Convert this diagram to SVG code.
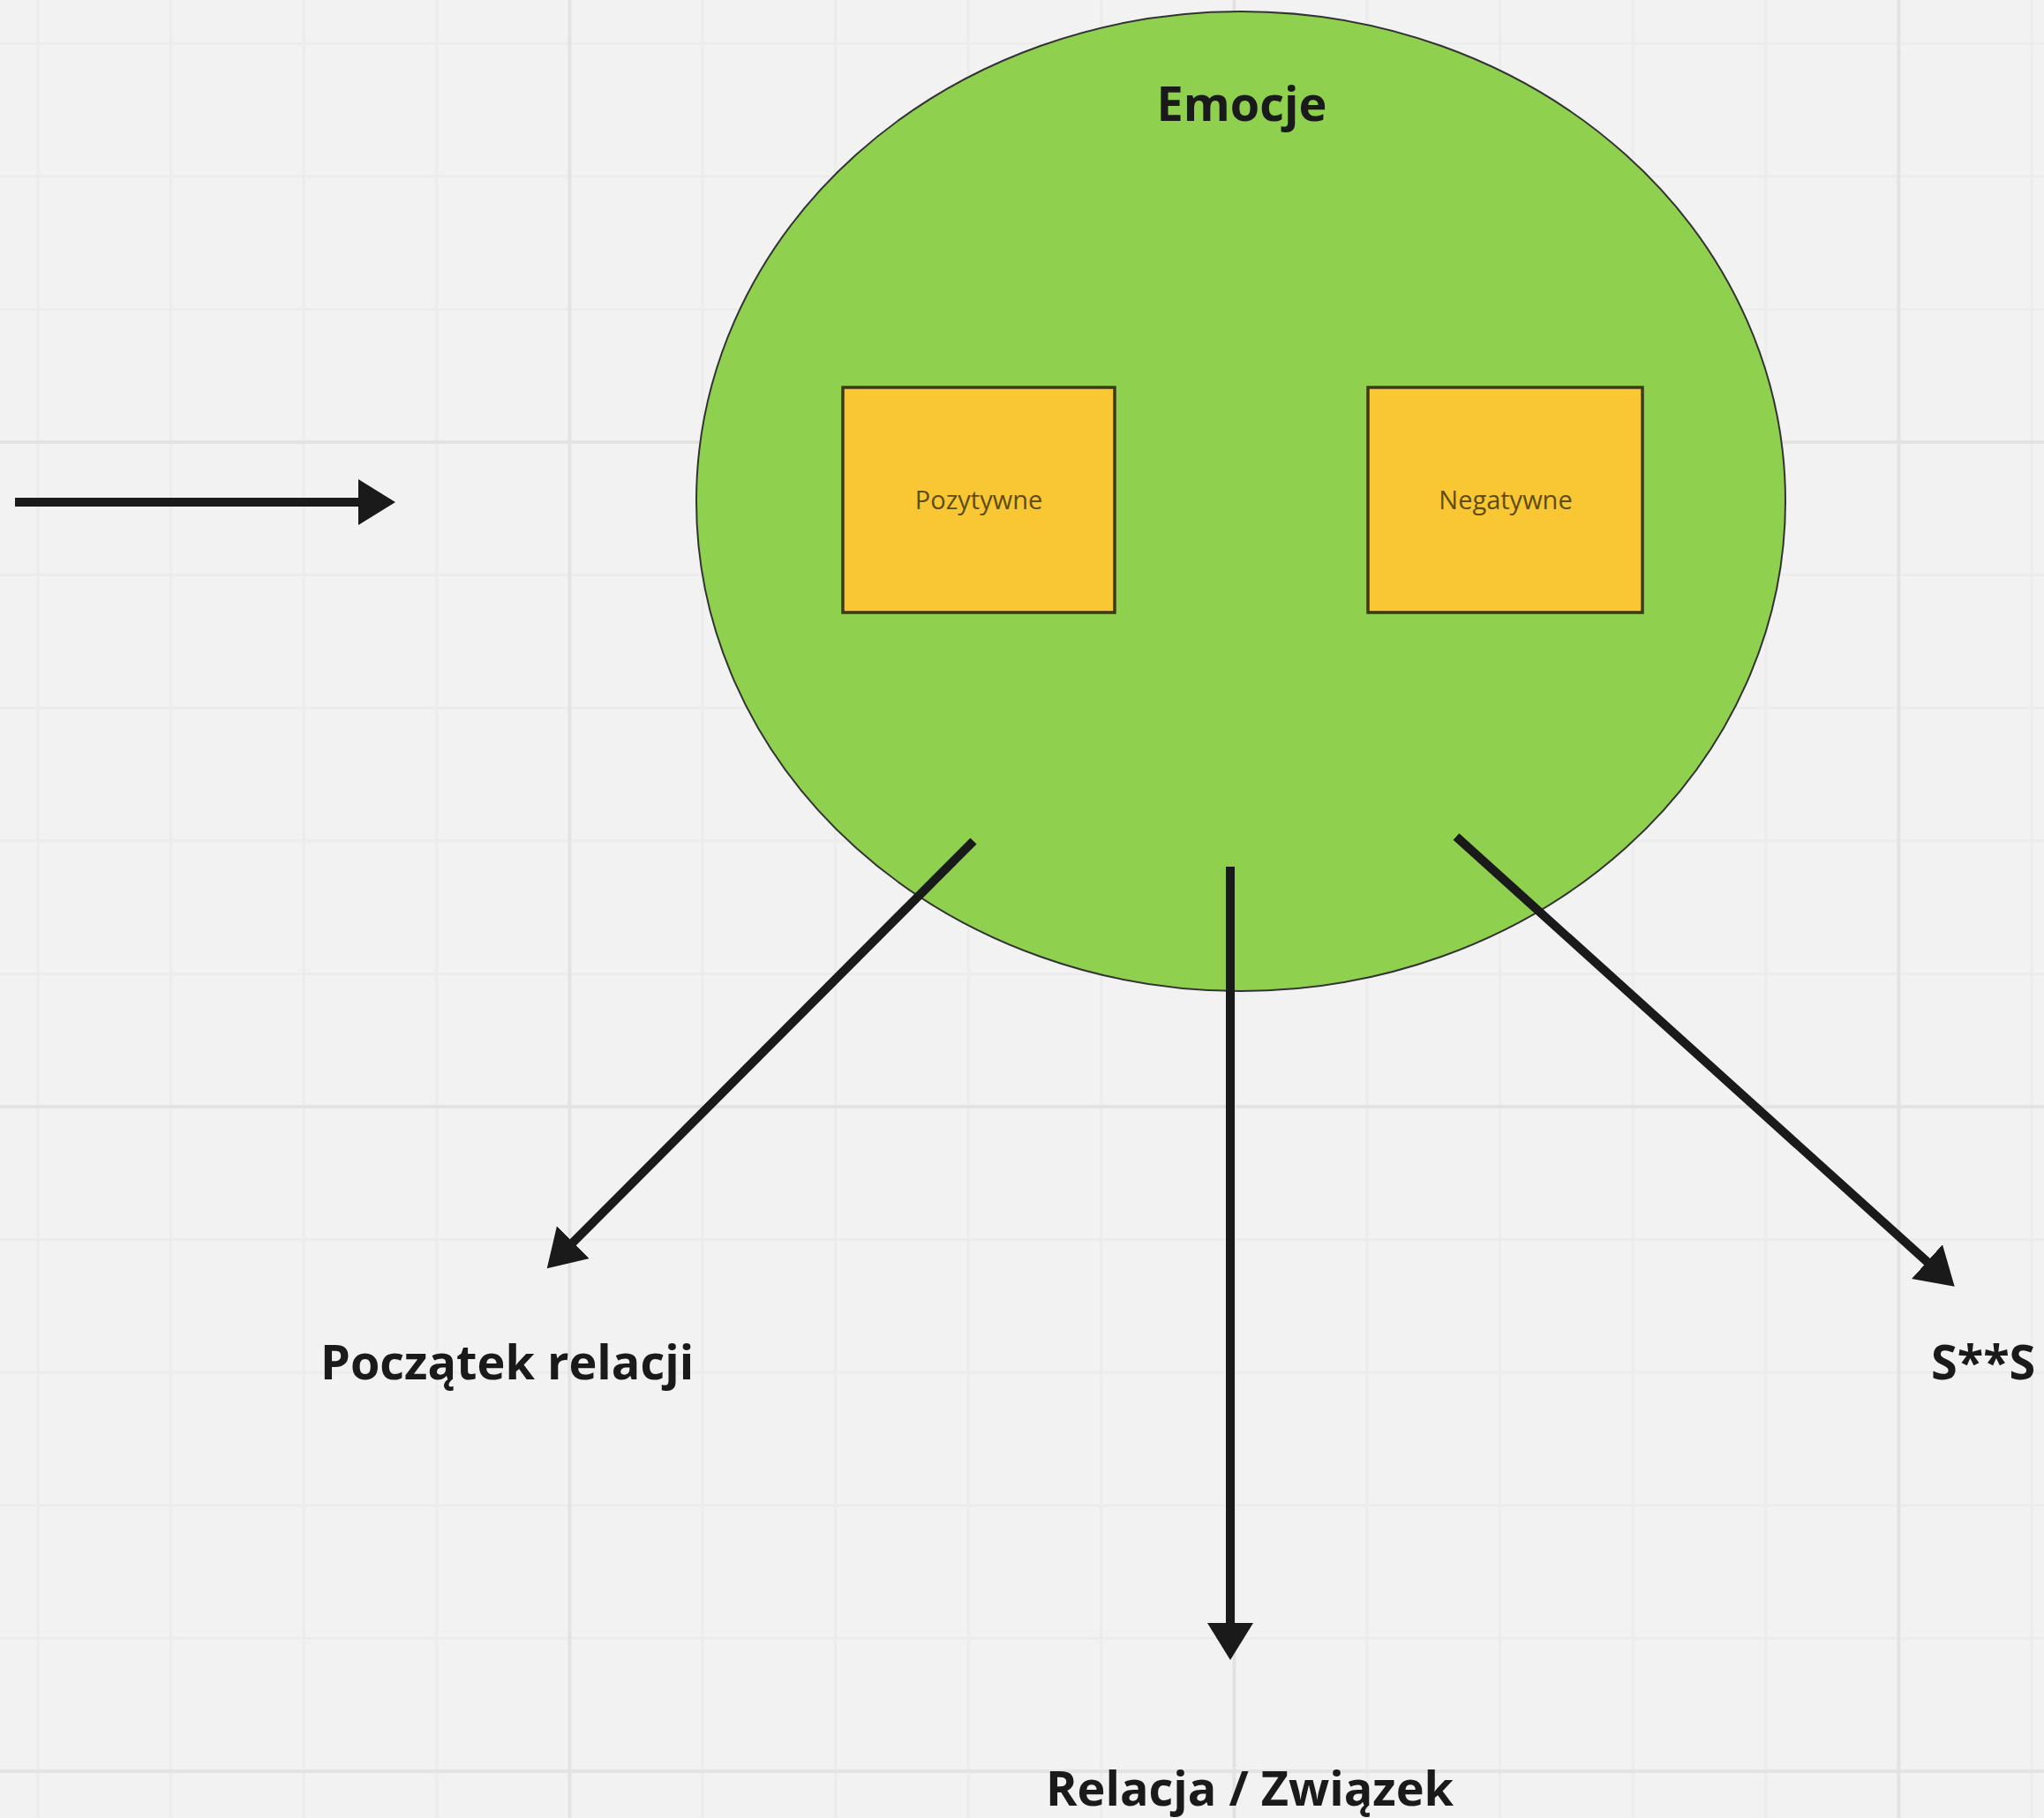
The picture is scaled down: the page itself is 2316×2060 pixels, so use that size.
<svg xmlns="http://www.w3.org/2000/svg" width="2316" height="2060" viewBox="0 0 2316 2060">
<style>
.minor{stroke:#ececec;stroke-width:3}
.major{stroke:#e3e3e3;stroke-width:4}
.conn{stroke:#1a1a1a;stroke-width:10;fill:none}
.lbl{font-family:"Open Sans","Liberation Sans",sans-serif;font-weight:700;font-size:54px;fill:#1a1a1a}
.box{fill:#f8c733;stroke:#3d3a1c;stroke-width:3.5}
.btxt{font-family:"Open Sans","Liberation Sans",sans-serif;font-size:29px;fill:#5e4c0c;text-anchor:middle}
</style>
<defs>
<marker id="ah" markerUnits="userSpaceOnUse" markerWidth="44" markerHeight="54" refX="2" refY="26" orient="auto" viewBox="0 0 44 52">
<path d="M0,0 L42,26 L0,52 z" fill="#1a1a1a"/>
</marker>
</defs>
<rect width="2316" height="2060" fill="#f2f2f2"/>
<g id="grid">
<path class="minor" d="M43,0V2060M193.6,0V2060M344.2,0V2060M494.8,0V2060M796,0V2060M946.6,0V2060M1097.2,0V2060M1247.8,0V2060M1549,0V2060M1699.6,0V2060M1850.2,0V2060M2000.8,0V2060M2302,0V2060"/>
<path class="minor" d="M0,49.2H2316M0,199.8H2316M0,350.4H2316M0,651.6H2316M0,802.2H2316M0,952.8H2316M0,1103.4H2316M0,1404.6H2316M0,1555.2H2316M0,1705.8H2316M0,1856.4H2316"/>
<path class="major" d="M645.4,0V2060M1398.4,0V2060M2151.4,0V2060M0,501H2316M0,1254H2316M0,2007H2316"/>
</g>
<g id="emocje">
<ellipse cx="1406" cy="568" rx="617" ry="555" fill="#8fd14f" stroke="#333333" stroke-width="2"/>
<text class="lbl" x="1407" y="137" text-anchor="middle">Emocje</text>
</g>
<g id="pozytywne">
<rect class="box" x="955" y="439" width="308" height="255"/>
<text class="btxt" x="1109" y="577">Pozytywne</text>
</g>
<g id="negatywne">
<rect class="box" x="1550" y="439" width="311" height="255"/>
<text class="btxt" x="1706" y="577">Negatywne</text>
</g>
<g id="poczatek">
<text class="lbl" x="363" y="1563">Początek relacji</text>
</g>
<g id="relacja">
<text class="lbl" x="1416" y="2046" text-anchor="middle">Relacja / Związek</text>
</g>
<g id="sxs">
<text class="lbl" x="2188" y="1563">S**S</text>
</g>
<g id="connectors">
<line class="conn" x1="17" y1="569" x2="408" y2="569" marker-end="url(#ah)"/>
<line class="conn" x1="1103" y1="953" x2="648" y2="1409" marker-end="url(#ah)"/>
<line class="conn" x1="1394" y1="982" x2="1394" y2="1841" marker-end="url(#ah)"/>
<line class="conn" x1="1650" y1="948" x2="2185" y2="1431" marker-end="url(#ah)"/>
</g>
</svg>
